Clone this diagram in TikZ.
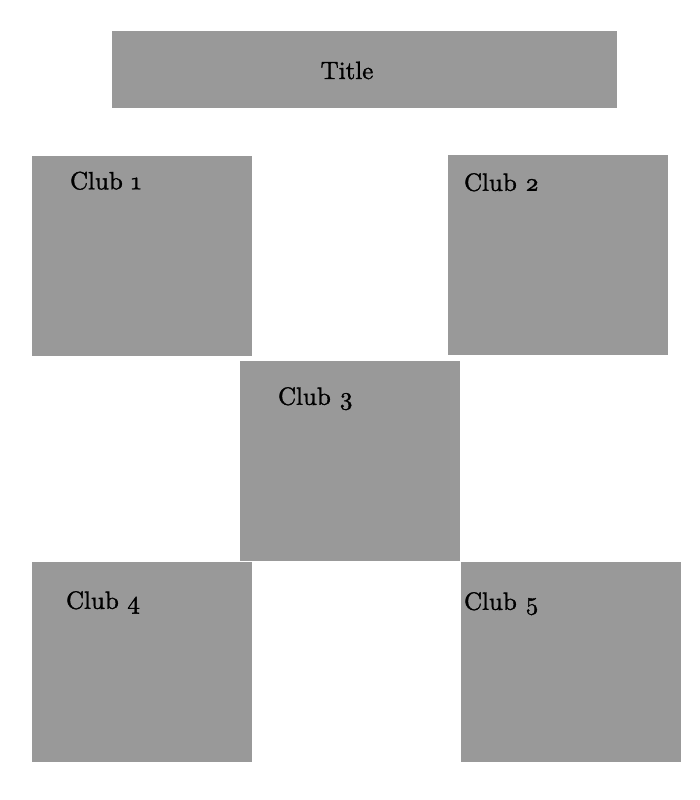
\documentclass[tikz,border=0pt]{standalone}
\usepackage{fontspec}
\usepackage{tikz}
\usetikzlibrary{positioning,calc}
\newfontfamily\clubfont{lmroman10-regular.otf}[FakeBold=1.4]
\definecolor{boxgray}{RGB}{153,153,153}

\begin{document}
\begin{tikzpicture}[x=1pt,y=-1pt,
	clubbox/.style={fill=boxgray, inner sep=0pt, minimum width=220pt, minimum height=200pt},
	clubname/.style={anchor=base west, inner sep=0pt, font=\clubfont\fontsize{25}{29}\selectfont}]
\useasboundingbox (0,0) rectangle (700,800);
% boxes
\node[clubbox, minimum width=505pt, minimum height=77pt] (title) at (364.5,69.5) {};
\node[clubbox] (club1) at (142,255.5) {};
\node[clubbox] (club2) at (558,255) {};
\node[clubbox] (club3) at (350,461) {};
\node[clubbox] (club4) at (142,662) {};
\node[clubbox] (club5) at (571,662) {};
% labels
\node[clubname, anchor=base] (titletext) at (347,79) {Title};
\node[clubname] (name1) at ($(club1.north west)+(38,34)$) {Club \oldstylenums{1}};
\node[clubname] (name2) at ($(club2.north west)+(16,36)$) {Club \oldstylenums{2}};
\node[clubname] (name3) at ($(club3.north west)+(38,44)$) {Club \oldstylenums{3}};
\node[clubname] (name4) at ($(club4.north west)+(34,47)$) {Club \oldstylenums{4}};
\node[clubname] (name5) at ($(club5.north west)+(3,48)$) {Club \oldstylenums{5}};
\end{tikzpicture}
\end{document}
